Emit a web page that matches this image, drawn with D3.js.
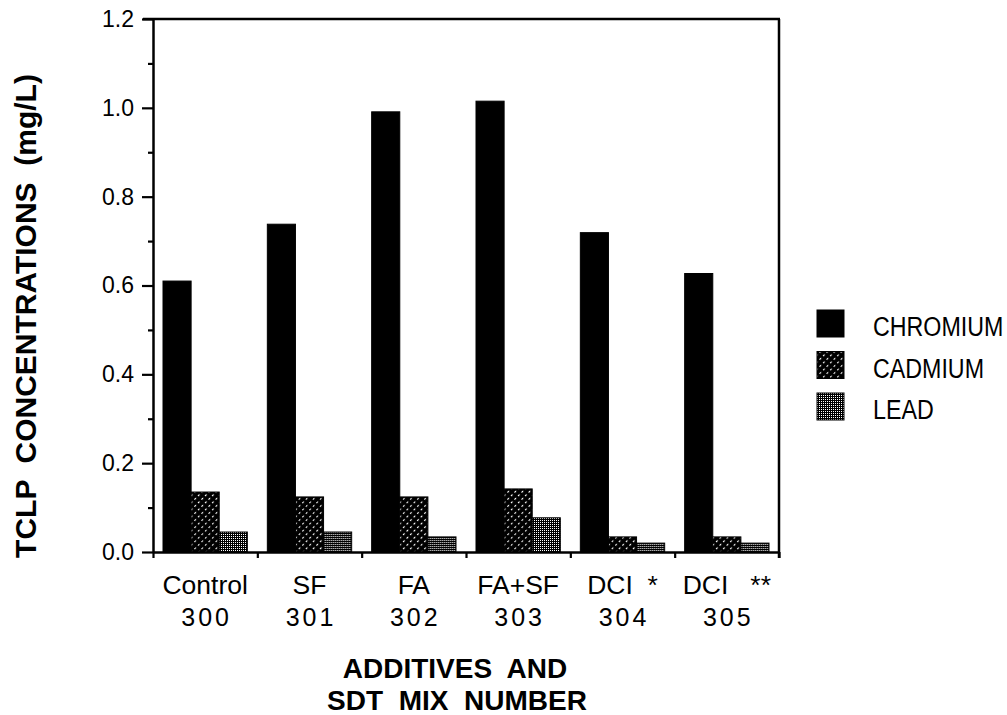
<!DOCTYPE html>
<html>
<head>
<meta charset="utf-8">
<script src="https://cdn.jsdelivr.net/npm/d3@7"></script>
<style>
  html, body { margin: 0; padding: 0; background: #fff; }
  svg { display: block; font-family: "Liberation Sans", Arial, Helvetica, sans-serif; }
  text { white-space: pre; fill: #000; }
</style>
</head>
<body>
<svg id="chart" width="1007" height="715"></svg>
<script>
// ---- data ----
const categories = ["Control", "SF", "FA", "FA+SF", "DCI  *", "DCI   **"];
const mixNumbers = ["300", "301", "302", "303", "304", "305"];
const seriesNames = ["CHROMIUM", "CADMIUM", "LEAD"];
const chromium = [0.610, 0.738, 0.991, 1.015, 0.719, 0.627];
const cadmium  = [0.135, 0.124, 0.124, 0.142, 0.034, 0.034];
const lead     = [0.045, 0.045, 0.034, 0.077, 0.020, 0.020];
const yMajorTicks = [0.0, 0.2, 0.4, 0.6, 0.8, 1.0, 1.2];
const yMinorTicks = [0.1, 0.3, 0.5, 0.7, 0.9, 1.1];
const yTitle = "TCLP  CONCENTRATIONS  (mg/L)";
const xTitle1 = "ADDITIVES  AND";
const xTitle2 = "SDT  MIX  NUMBER";

const seriesValues = [chromium, cadmium, lead];

(function () {
// ---- layout ----
const pLeft = 153, pRight = 779, pTop = 19, pBottom = 552;
const svg = d3.select("#chart");

// patterns
const defs = svg.append("defs");
const hatch = defs.append("pattern").attr("id", "hatch")
  .attr("patternUnits", "userSpaceOnUse").attr("width", 5).attr("height", 5)
  .attr("patternTransform", "rotate(-45)");
hatch.append("rect").attr("width", 5).attr("height", 5).attr("fill", "#000");
hatch.append("rect").attr("x", 1).attr("y", 2).attr("width", 2.2).attr("height", 1.1).attr("fill", "#fff");
const dots = defs.append("pattern").attr("id", "dots")
  .attr("patternUnits", "userSpaceOnUse").attr("width", 2).attr("height", 2);
dots.append("rect").attr("width", 2).attr("height", 2).attr("fill", "#000");
dots.append("rect").attr("width", 1).attr("height", 1).attr("fill", "#fff");

const fills = ["#000", "url(#hatch)", "url(#dots)"];

// scales
const x0 = d3.scaleBand().domain(categories).range([pLeft, pRight]).padding(0);
const pad = 10;
const x1 = d3.scaleBand().domain(seriesNames).range([pad, x0.bandwidth() - pad]).padding(0);
const y = d3.scaleLinear().domain([0, 1.2]).range([pBottom, pTop]);
const xEdge = d3.scaleLinear().domain([0, categories.length]).range([pLeft, pRight]);

// bars
const groups = svg.append("g").selectAll("g").data(categories).join("g")
  .attr("transform", d => `translate(${x0(d)},0)`);
groups.selectAll("rect")
  .data((d, i) => seriesNames.map((s, j) => ({ s, j, v: seriesValues[j][i] })))
  .join("rect")
  .attr("x", d => x1(d.s))
  .attr("width", x1.bandwidth())
  .attr("y", d => y(d.v))
  .attr("height", d => y(0) - y(d.v))
  .attr("fill", d => fills[d.j])
  .attr("stroke", "#000").attr("stroke-width", 1);

// y axis major
const yAxis = svg.append("g").attr("transform", `translate(${pLeft},0)`)
  .call(d3.axisLeft(y).tickValues(yMajorTicks).tickSize(11).tickSizeOuter(0)
    .tickFormat(d3.format(".1f")));
yAxis.select(".domain").attr("stroke-width", 2.5);
yAxis.selectAll(".tick line").attr("stroke-width", 2.2);
yAxis.selectAll(".tick text").attr("font-size", 23).attr("x", -19)
  .attr("font-family", "Liberation Sans, Arial, sans-serif").attr("fill", "#000");

// y axis minor
const yMinor = svg.append("g").attr("transform", `translate(${pLeft},0)`)
  .call(d3.axisLeft(y).tickValues(yMinorTicks).tickSize(5).tickFormat(""));
yMinor.select(".domain").remove();
yMinor.selectAll(".tick line").attr("stroke-width", 2.2);

// x axis (ticks at group edges)
const xAxis = svg.append("g").attr("transform", `translate(0,${pBottom})`)
  .call(d3.axisBottom(xEdge).tickValues(d3.range(0, categories.length + 1)).tickSize(6).tickSizeOuter(0).tickFormat(""));
xAxis.select(".domain").attr("stroke-width", 2.5);
xAxis.selectAll(".tick line").attr("stroke-width", 2.2);

// frame: top and right
svg.append("line").attr("x1", pLeft - 10).attr("x2", pRight + 1).attr("y1", pTop).attr("y2", pTop)
  .attr("stroke", "#000").attr("stroke-width", 2.5);
svg.append("line").attr("x1", pRight).attr("x2", pRight).attr("y1", pTop).attr("y2", pBottom + 6)
  .attr("stroke", "#000").attr("stroke-width", 2.5);

// category labels
svg.append("g").selectAll("text").data(categories).join("text")
  .attr("x", d => x0(d) + x0.bandwidth() / 2)
  .attr("y", 594)
  .attr("text-anchor", "middle")
  .attr("font-size", 26.5)
  .text(d => d);
svg.append("g").selectAll("text").data(mixNumbers).join("text")
  .attr("x", (d, i) => x0(categories[i]) + x0.bandwidth() / 2 + 1.5)
  .attr("y", 626)
  .attr("text-anchor", "middle")
  .attr("font-size", 25)
  .attr("letter-spacing", 3)
  .text(d => d);

// axis titles
svg.append("text").attr("x", 455).attr("y", 678).attr("text-anchor", "middle")
  .attr("font-size", 28).attr("font-weight", "bold").text(xTitle1);
svg.append("text").attr("x", 457).attr("y", 710).attr("text-anchor", "middle")
  .attr("font-size", 28).attr("font-weight", "bold").text(xTitle2);
svg.append("text").attr("transform", "translate(36,316) rotate(-90)")
  .attr("text-anchor", "middle").attr("font-size", 30).attr("font-weight", "bold").text(yTitle);

// legend
const legend = svg.append("g").selectAll("g").data(seriesNames).join("g")
  .attr("transform", (d, i) => `translate(817,${310 + i * 41.5})`);
legend.append("rect").attr("width", 27).attr("height", 27)
  .attr("fill", (d, i) => fills[i]).attr("stroke", "#000").attr("stroke-width", 1);
legend.append("text")
  .attr("transform", "translate(56,26) scale(0.83,1)")
  .attr("font-size", 28)
  .text(d => d);
})();
</script>
</body>
</html>
